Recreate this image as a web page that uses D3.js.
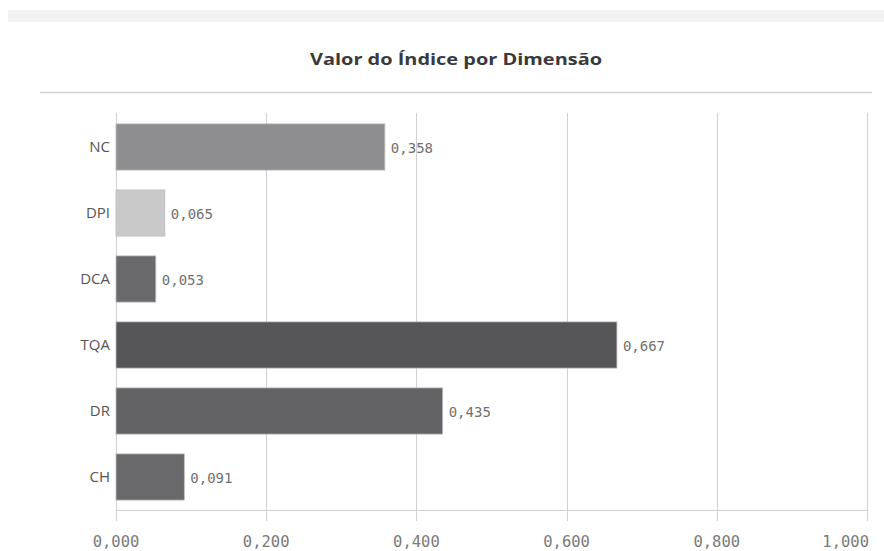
<!DOCTYPE html>
<html>
<head>
<meta charset="utf-8">
<script src="https://cdn.jsdelivr.net/npm/d3@7"></script>
<style>
  body { margin: 0; background: #fff; }
  svg { display: block; }
</style>
</head>
<body>
<svg width="884" height="551"></svg>
<script>
// data
var categories = ["NC", "DPI", "DCA", "TQA", "DR", "CH"];
var values = [0.358, 0.065, 0.053, 0.667, 0.435, 0.091];
var barColors = ["#8e8e91", "#c9c9c9", "#6a6a6d", "#555557", "#636365", "#69696b"];
var ticks = [0, 0.2, 0.4, 0.6, 0.8, 1.0];

var svg = d3.select("svg");
var fmt = function (v) { return d3.format(".3f")(v).replace(".", ","); };

// top strip
svg.append("rect")
    .attr("x", 8).attr("y", 10)
    .attr("width", 876).attr("height", 12)
    .attr("fill", "#f2f2f2");

// title
svg.append("text")
    .attr("x", 310).attr("y", 65)
    .attr("textLength", 292)
    .attr("lengthAdjust", "spacingAndGlyphs")
    .style("font-family", "'Open Sans', sans-serif")
    .style("font-size", "16px")
    .style("font-weight", "700")
    .style("fill", "#3a3a3a")
    .text("Valor do Índice por Dimensão");

svg.append("line")
    .attr("x1", 40).attr("x2", 872)
    .attr("y1", 92.5).attr("y2", 92.5)
    .attr("stroke", "#d4d4d4")
    .attr("stroke-width", 1.5);

var x = d3.scaleLinear().domain([0, 1]).range([116, 867]);
var y = d3.scaleBand().domain(categories).range([114, 510])
    .paddingInner(0.3).paddingOuter(0.15);

// grid lines
svg.append("g")
    .selectAll("line")
    .data(ticks)
    .enter().append("line")
    .attr("x1", function (d) { return Math.round(x(d)) + 0.5; })
    .attr("x2", function (d) { return Math.round(x(d)) + 0.5; })
    .attr("y1", 113).attr("y2", 521)
    .attr("stroke", "#d0d0d0");

// axis baseline
svg.append("line")
    .attr("x1", 116).attr("x2", 867)
    .attr("y1", 510.5).attr("y2", 510.5)
    .attr("stroke", "#d0d0d0");

// tick labels
svg.append("g")
    .selectAll("text")
    .data(ticks)
    .enter().append("text")
    .attr("x", function (d) { return x(d); })
    .attr("y", 547)
    .attr("text-anchor", function (d) { return d === 1 ? "end" : "middle"; })
    .attr("dx", function (d) { return d === 1 ? 2 : 0; })
    .style("font-family", "'DejaVu Sans Mono', monospace")
    .style("font-size", "15.5px")
    .style("fill", "#7a7a7a")
    .text(fmt);

// bars
svg.append("g")
    .selectAll("rect")
    .data(categories)
    .enter().append("rect")
    .attr("x", x(0))
    .attr("y", function (d) { return y(d); })
    .attr("width", function (d, i) { return x(values[i]) - x(0); })
    .attr("height", y.bandwidth())
    .attr("fill", function (d, i) { return barColors[i]; })
    .attr("stroke", "#bdbdbd")
    .attr("stroke-width", 0.8);

// category labels
svg.append("g")
    .selectAll("text")
    .data(categories)
    .enter().append("text")
    .attr("x", 110)
    .attr("y", function (d) { return y(d) + y.bandwidth() / 2; })
    .attr("dy", "0.35em")
    .attr("text-anchor", "end")
    .style("font-family", "'Open Sans', sans-serif")
    .style("font-size", "15px")
    .style("fill", "#555")
    .text(function (d) { return d; });

// value labels
svg.append("g")
    .selectAll("text")
    .data(categories)
    .enter().append("text")
    .attr("x", function (d, i) { return x(values[i]) + 6; })
    .attr("y", function (d) { return y(d) + y.bandwidth() / 2 + 1; })
    .attr("dy", "0.35em")
    .style("font-family", "'DejaVu Sans Mono', monospace")
    .style("font-size", "14px")
    .style("fill", "#707070")
    .text(function (d, i) { return fmt(values[i]); });
</script>
</body>
</html>
